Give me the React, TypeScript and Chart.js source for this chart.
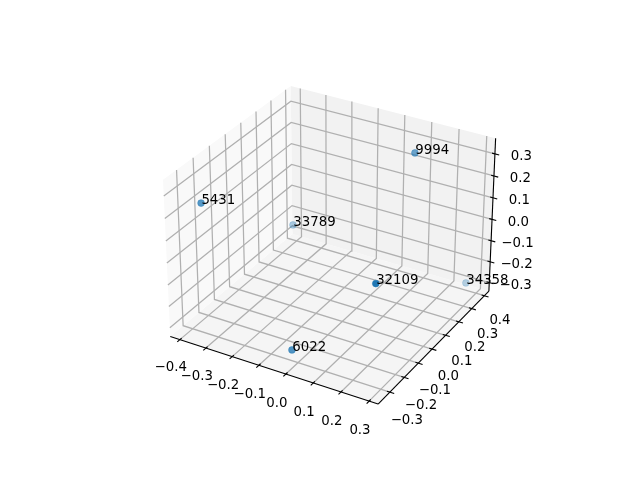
import { useEffect, useRef } from "react";
import { Chart, registerables } from "chart.js";

Chart.register(...registerables);

const labels = ["5431", "9994", "33789", "34358", "32109", "6022"];
const xValues = [-0.423, 0.0998, -0.2797, 0.2518, 0.202, -0.0459];
const yValues = [-0.1848, 0.315, 0.1651, 0.4214, -0.153, -0.259];
const zValues = [0.1644, 0.2929, -0.0852, -0.3225, 0.0068, -0.3273];

const xTicks = [-0.4, -0.3, -0.2, -0.1, 0, 0.1, 0.2, 0.3];
const yTicks = [-0.3, -0.2, -0.1, 0, 0.1, 0.2, 0.3, 0.4];
const zTicks = [-0.3, -0.2, -0.1, 0, 0.1, 0.2, 0.3];

const xLim = [-0.4374, 0.3318];
const yLim = [-0.38, 0.436];
const zLim = [-0.3412, 0.37];

const FONT = "13.33px 'DejaVu Sans'";
const BLUE = "31,119,180";

// Camera of a default 3D view: elevation 30, azimuth -60, distance 10
const U = [0.866, 0.5, 0];
const V = [-0.25, 0.433, 0.866];
const W = [0.433, -0.75, 0.5];
const BOX = [1.1429, 1.1429, 0.8571];
const SCALE = 2084;
const CX = 332.4;
const CY = 237.7;

type P3 = [number, number, number];
const dot = (a: number[], b: number[]) => a[0] * b[0] + a[1] * b[1] + a[2] * b[2];
const centred = (p: P3) => [
  ((p[0] - xLim[0]) / (xLim[1] - xLim[0]) - 0.5) * BOX[0],
  ((p[1] - yLim[0]) / (yLim[1] - yLim[0]) - 0.5) * BOX[1],
  ((p[2] - zLim[0]) / (zLim[1] - zLim[0]) - 0.5) * BOX[2],
];
const project = (p: P3) => {
  const c = centred(p);
  const den = 10 - dot(W, c);
  return { x: CX + (SCALE * dot(U, c)) / den, y: CY - (SCALE * dot(V, c)) / den };
};
const depth = (p: P3) => dot(W, centred(p));

const fmt = (v: number) => v.toFixed(1).replace("-", "\u2212");

const line = (pts: P3[], color: string, width: number) => ({
  type: "line" as const,
  data: pts.map(project),
  borderColor: color,
  borderWidth: width,
  pointRadius: 0,
  tension: 0,
  fill: false,
  clip: false as const,
});

const pane = (pts: P3[], color: string) => ({
  type: "line" as const,
  data: [...pts, pts[0]].map(project),
  borderWidth: 0,
  borderColor: "rgba(0,0,0,0)",
  backgroundColor: color,
  pointRadius: 0,
  tension: 0,
  fill: "shape",
  clip: false as const,
});

export default function App() {
  const ref = useRef<HTMLCanvasElement>(null);
  useEffect(() => {
    document.body.style.margin = "0";
    const [x0, x1] = xLim;
    const [y0, y1] = yLim;
    const [z0, z1] = zLim;
    const points: P3[] = xValues.map((x, i) => [x, yValues[i], zValues[i]]);
    const depths = points.map(depth);
    const dMin = Math.min(...depths);
    const dMax = Math.max(...depths);
    const colors = depths.map(
      (d) => `rgba(${BLUE},${(1 - (0.7 * (dMax - d)) / (dMax - dMin)).toFixed(3)})`,
    );

    const GRID = "#b0b0b0";
    const GW = 1.25;
    const grid = [
      ...xTicks.map((t) => line([[t, y0, z0], [t, y1, z0], [t, y1, z1]], GRID, GW)),
      ...yTicks.map((t) => line([[x0, t, z1], [x0, t, z0], [x1, t, z0]], GRID, GW)),
      ...zTicks.map((t) => line([[x0, y0, t], [x0, y1, t], [x1, y1, t]], GRID, GW)),
    ];
    const dy = (y1 - y0) / 12;
    const dx = (x1 - x0) / 12;
    const ticks = [
      ...xTicks.map((t) => line([[t, y0 + 0.16 * dy, z0], [t, y0 - 0.24 * dy, z0]], "#000", 1.11)),
      ...yTicks.map((t) => line([[x1 - 0.16 * dx, t, z0], [x1 + 0.24 * dx, t, z0]], "#000", 1.11)),
      ...zTicks.map((t) => line([[x1 - 0.16 * dx, y1, t], [x1 + 0.24 * dx, y1, t]], "#000", 1.11)),
    ];
    const axes = [
      line([[x0, y0, z0], [x1, y0, z0]], "#000", 1.11),
      line([[x1, y0, z0], [x1, y1, z0]], "#000", 1.11),
      line([[x1, y1, z0], [x1, y1, z1]], "#000", 1.11),
    ];
    const panes = [
      pane([[x0, y0, z0], [x0, y1, z0], [x0, y1, z1], [x0, y0, z1]], "#f9f9f9"),
      pane([[x0, y1, z0], [x1, y1, z0], [x1, y1, z1], [x0, y1, z1]], "#f2f2f2"),
      pane([[x0, y0, z0], [x1, y0, z0], [x1, y1, z0], [x0, y1, z0]], "#f5f5f5"),
    ];

    const textPlugin = {
      id: "texts",
      afterDatasetsDraw(chart: any) {
        const ctx = chart.ctx;
        const sx = chart.scales.x;
        const sy = chart.scales.y;
        ctx.save();
        ctx.font = FONT;
        ctx.fillStyle = "#000";
        const put = (p: P3, t: string, ox: number, oy: number) => {
          const q = project(p);
          ctx.fillText(t, sx.getPixelForValue(q.x) + ox, sy.getPixelForValue(q.y) + oy);
        };
        ctx.textAlign = "center";
        ctx.textBaseline = "middle";
        xTicks.forEach((t) => put([t, y0, z0], fmt(t), -9.1, 28.4 + ((t + 0.4) / 0.7) * 1.5));
        yTicks.forEach((t) =>
          put([x1, t, z0], fmt(t), 15.6 + ((0.4 - t) / 0.7) * 1.4, 25.3 + ((0.4 - t) / 0.7) * 3.1),
        );
        zTicks.forEach((t) => put([x1, y1, t], fmt(t), 26.4, 3));
        ctx.textAlign = "left";
        ctx.textBaseline = "alphabetic";
        labels.forEach((t, i) => put(points[i], t, 0.3, 0.7));
        ctx.restore();
      },
    };

    const chart = new Chart(ref.current!, {
      type: "scatter",
      data: {
        datasets: [
          {
            type: "scatter",
            data: points.map(project),
            pointBackgroundColor: colors,
            pointBorderColor: colors,
            pointBorderWidth: 0.6,
            pointRadius: 3.4,
            clip: false,
          } as any,
          ...axes,
          ...ticks,
          ...grid,
          ...panes,
        ] as any,
      },
      options: {
        animation: false,
        responsive: false,
        layout: { padding: 0, autoPadding: false },
        plugins: { legend: { display: false }, tooltip: { enabled: false } },
        scales: {
          x: { type: "linear", min: 0, max: 640, display: false },
          y: { type: "linear", min: 0, max: 480, reverse: true, display: false },
        },
      },
      plugins: [textPlugin],
    });
    return () => chart.destroy();
  }, []);
  return <canvas ref={ref} width={640} height={480} style={{ display: "block" }} />;
}
